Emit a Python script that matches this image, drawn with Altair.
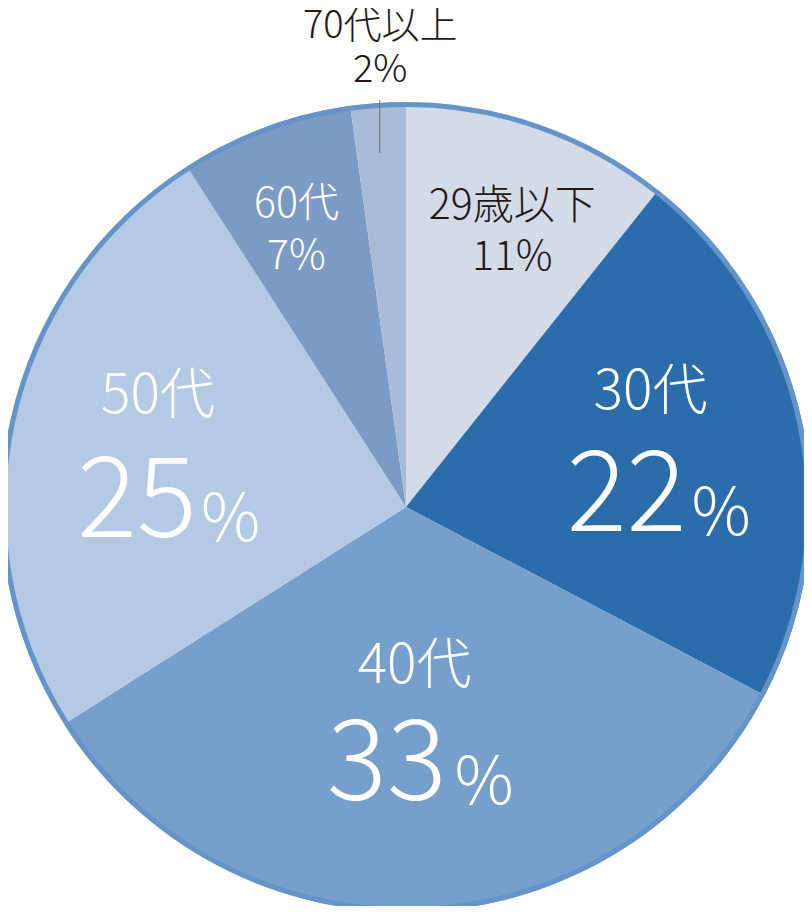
import math
import altair as alt
import pandas as pd

# ---- data ----
categories = ["29歳以下", "30代", "40代", "50代", "60代", "70代以上"]
values = [10.7, 22.0, 33.3, 24.9, 6.9, 2.2]
pct_numbers = ["11", "22", "33", "25", "7", "2"]
colors = ["#d3dbe9", "#2b6cab", "#769fcb", "#b4c9e3", "#7b9bc4", "#a8bcd7"]

# ---- styling ----
CX, CY = 398, 499
R = 405
RING = 5
RING_COLOR = "#6594c9"
FONT = "Noto Sans CJK JP"
DARK = "#231815"
WHITE = "#ffffff"
TAU = 2 * math.pi
NAME_SIZE = 55
NUM_SIZE = 112
SIGN_SIZE = 66

# label style: radius of anchor, x shift, dy for name / percent
SMALL = {
    "29歳以下": dict(r=295, dx=9, name_dy=-22, pct_dy=29, color=DARK, size=41),
    "60代": dict(r=295, dx=-7, name_dy=-25, pct_dy=27, color=WHITE, size=41),
    "70代以上": dict(r=460, dx=6, name_dy=-21, pct_dy=23, color=DARK, size=38),
}
BIG = {
    "30代": dict(r=255, dx=-5, name_dy=-63, num_dx=31, pct_dx=36, pct_dy=76, color=WHITE),
    "40代": dict(r=210, dx=0, name_dy=-51, num_dx=32, pct_dx=40, pct_dy=83, color=WHITE),
    "50代": dict(r=255, dx=1, name_dy=-56, num_dx=40, pct_dx=44, pct_dy=85, color=WHITE),
}

df = pd.DataFrame({
    "cat": categories,
    "value": values,
    "num": pct_numbers,
    "idx": list(range(len(categories))),
})

theta_stack = alt.Theta("value:Q", stack=True)
order = alt.Order("idx:Q", sort="ascending")

pie = alt.Chart(df).mark_arc(radius=R).encode(
    theta=theta_stack,
    order=order,
    color=alt.Color("cat:N", scale=alt.Scale(domain=categories, range=colors), legend=None),
    x=alt.value(CX),
    y=alt.value(CY),
)

ring = alt.Chart(df).mark_arc(radius=R, radius2=R - RING, color=RING_COLOR).encode(
    theta=theta_stack,
    order=order,
    x=alt.value(CX),
    y=alt.value(CY),
)

lab = alt.Chart(df).transform_window(
    cum="sum(value)",
    sort=[alt.SortField("idx", order="ascending")],
    frame=[None, 0],
).transform_calculate(
    mid="datum.cum - datum.value / 2",
    pct="datum.num + '%'",
)

theta_mid = alt.Theta("mid:Q", scale=alt.Scale(domain=[0, 100], range=[0, TAU]))


def text_layer(cat, field, r, dx, dy, size, color, align="center", baseline="middle"):
    return lab.transform_filter(alt.datum.cat == cat).mark_text(
        radius=r, dx=dx, dy=dy, fontSize=size, font=FONT, fontWeight=300,
        color=color, align=align, baseline=baseline,
    ).encode(
        theta=theta_mid,
        text=alt.Text(f"{field}:N"),
        x=alt.value(CX),
        y=alt.value(CY),
    )


layers = []
for cat, s in SMALL.items():
    layers.append(text_layer(cat, "cat", s["r"], s["dx"], s["name_dy"], s["size"], s["color"]))
    layers.append(text_layer(cat, "pct", s["r"], s["dx"], s["pct_dy"], s["size"], s["color"]))
for cat, s in BIG.items():
    layers.append(text_layer(cat, "cat", s["r"], s["dx"], s["name_dy"], NAME_SIZE, s["color"]))
    layers.append(text_layer(cat, "num", s["r"], s["num_dx"], s["pct_dy"], NUM_SIZE, s["color"],
                             align="right", baseline="alphabetic"))
    layers.append(lab.transform_filter(alt.datum.cat == cat).transform_calculate(
        sign="'%'").mark_text(
        radius=s["r"], dx=s["pct_dx"], dy=s["pct_dy"] + 4, fontSize=SIGN_SIZE, font=FONT,
        fontWeight=300, color=s["color"], align="left", baseline="alphabetic",
    ).encode(theta=theta_mid, text=alt.Text("sign:N"), x=alt.value(CX), y=alt.value(CY)))

leader = lab.transform_filter(alt.datum.cat == "70代以上").transform_calculate(
    lx=f"{CX} + 380 * sin(2 * PI * datum.mid / 100)"
).mark_rule(color="#6d6d6d", strokeWidth=1).encode(
    x=alt.X("lx:Q", scale=None),
    y=alt.value(CY - 407),
    y2=alt.value(CY - 354),
)

chart = alt.layer(pie, ring, leader, *layers).properties(
    width=796,
    height=898,
    autosize=alt.AutoSizeParams(type="none"),
    padding=0,
    background="#ffffff",
).configure_view(strokeWidth=0)

chart.save("out.html", embed_options={"renderer": "svg", "actions": False})
